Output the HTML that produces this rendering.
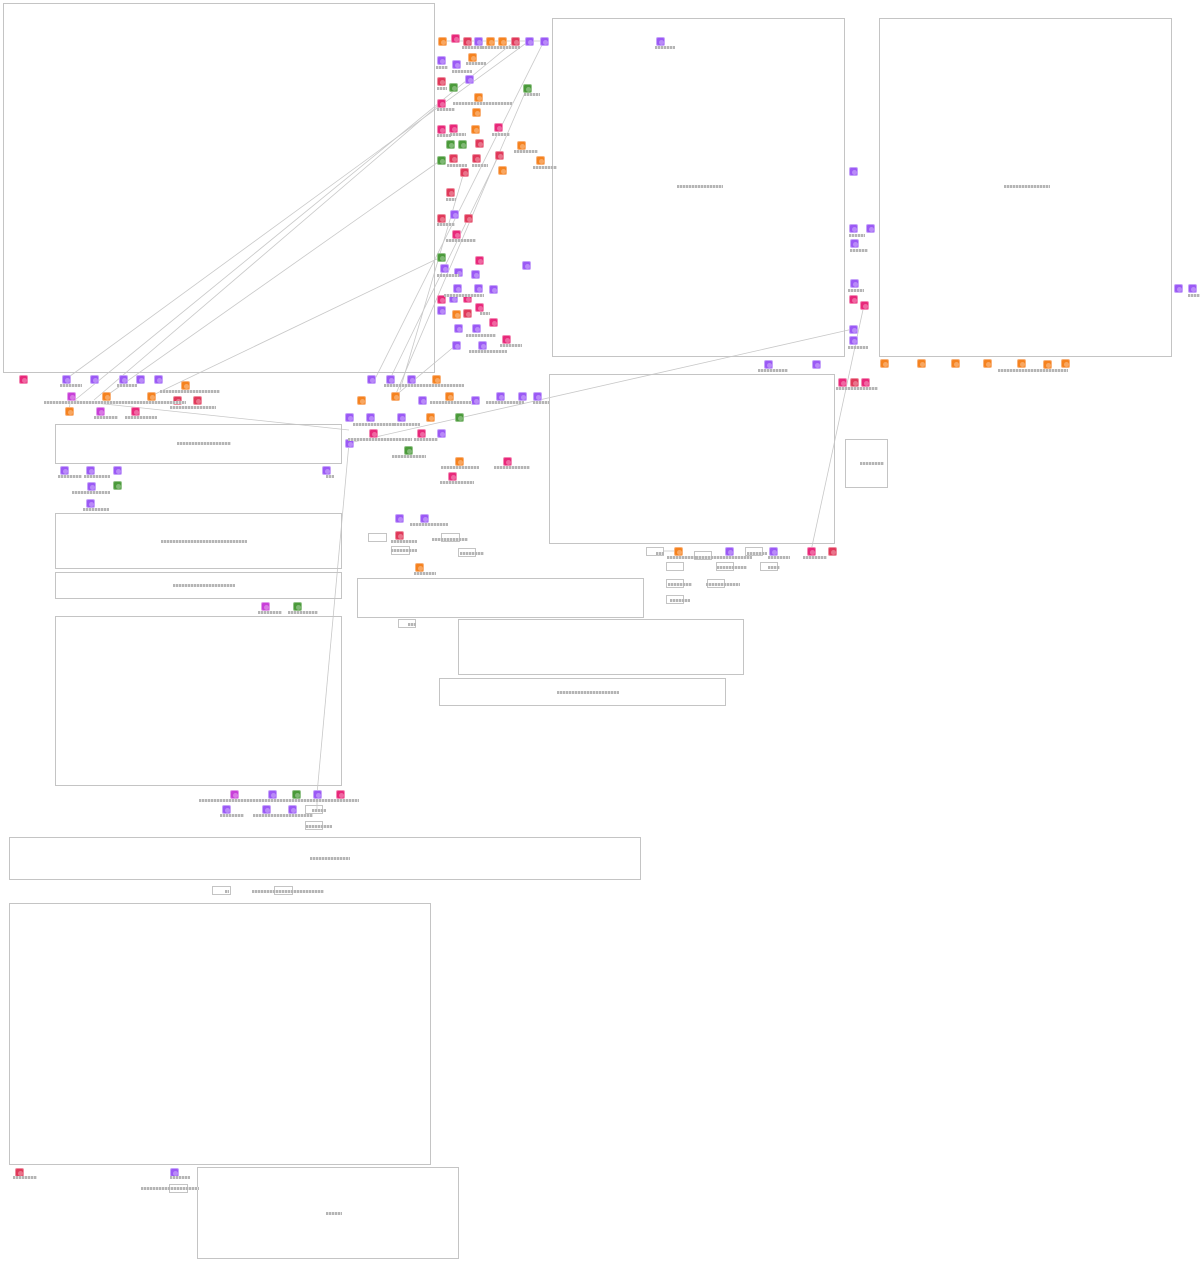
<!DOCTYPE html>
<html><head><meta charset="utf-8"><style>
html,body{margin:0;padding:0;background:#fff;}
#c{position:relative;width:1200px;height:1263px;overflow:hidden;font-family:"Liberation Sans",sans-serif;}
.b{position:absolute;border:1px solid #c4c4c4;box-sizing:border-box;background:transparent;}
.i{position:absolute;width:9px;height:9px;border-radius:2px;box-sizing:border-box;}
.i::after{content:"";position:absolute;left:2px;top:2px;width:5px;height:5px;border-radius:50%;background:rgba(255,255,255,0.3);}
.l{position:absolute;height:3px;font-size:3px;line-height:3px;color:#aaa;white-space:nowrap;overflow:hidden;background:repeating-linear-gradient(90deg,#b5b5b5 0 2px,#e2e2e2 2px 3px);}
svg{position:absolute;left:0;top:0;}
</style></head><body><div id="c">
<svg width="1200" height="1263" stroke="#c8c8c8" stroke-width="0.8" fill="none">
<line x1="529" y1="41" x2="66" y2="379"/>
<line x1="515" y1="41" x2="75" y2="400"/>
<line x1="441" y1="103" x2="94" y2="400"/>
<line x1="441" y1="160" x2="106" y2="396"/>
<line x1="441" y1="257" x2="151" y2="396"/>
<line x1="544" y1="41" x2="375" y2="379"/>
<line x1="527" y1="88" x2="395" y2="396"/>
<line x1="499" y1="155" x2="390" y2="379"/>
<line x1="464" y1="172" x2="400" y2="390"/>
<line x1="456" y1="345" x2="395" y2="396"/>
<line x1="853" y1="329" x2="349" y2="443"/>
<line x1="864" y1="305" x2="811" y2="551"/>
<line x1="349" y1="443" x2="317" y2="794"/>
<line x1="67" y1="400" x2="349" y2="430"/>
<line x1="71" y1="396" x2="69" y2="411"/>
<line x1="442" y1="41" x2="544" y2="41"/>
<line x1="664" y1="551" x2="678" y2="551"/>
<line x1="317" y1="794" x2="317" y2="809"/>
</svg>
<div id="boxes"></div>
</div>
<script>
var c=document.getElementById('c');
var B=[[3,3,432,370],[552,18,293,339],[879,18,293,339],[549,374,286,170],[55,424,287,40],[55,513,287,56],[55,572,287,27],[357,578,287,40],[458,619,286,56],[439,678,287,28],[55,616,287,170],[845,439,43,49],[9,837,632,43],[9,903,422,262],[197,1167,262,92],
[368,533,19,9],[391,546,19,9],[441,533,19,9],[458,548,18,9],[398,619,18,9],[646,547,18,9],[694,551,18,9],[745,547,18,9],[666,562,18,9],[716,562,18,9],[760,562,18,9],[666,579,18,9],[707,579,18,9],[666,595,18,9],[305,805,18,9],[305,821,18,9],[212,886,19,9],[274,886,19,9],[169,1184,19,9]];
B.forEach(function(b){var d=document.createElement('div');d.className='b';d.style.cssText='left:'+b[0]+'px;top:'+b[1]+'px;width:'+b[2]+'px;height:'+b[3]+'px';c.appendChild(d);});
var col={o:['#f5821f','#f9b27a'],p:['#e8287a','#f38ab5'],r:['#e0395a','#ee8ea0'],u:['#9b59f5','#c6a4fa'],g:['#4a9a3a','#93c389'],m:['#c83fd8','#e29aeb']};
var I="442,41,o 455,38,p 467,41,r 478,41,u 490,41,o 502,41,o 515,41,r 529,41,u 544,41,u 441,60,u 456,64,u 472,57,o 469,79,u 441,81,r 453,87,g 478,97,o 527,88,g 441,103,p 476,112,o 441,129,p 453,128,p 475,129,o 498,127,p 450,144,g 462,144,g 479,143,r 521,145,o 441,160,g 453,158,r 476,158,r 499,155,r 540,160,o 464,172,r 502,170,o 450,192,r 454,214,u 441,218,r 468,218,r 456,234,p 441,257,g 479,260,p 526,265,u 444,268,u 458,272,u 475,274,u 457,288,u 478,288,u 493,289,u 441,299,p 453,298,u 467,298,p 479,307,p 441,310,u 456,314,o 467,313,r 493,322,p 458,328,u 476,328,u 506,339,p 456,345,u 482,345,u 660,41,u 853,171,u 853,228,u 870,228,u 854,243,u 854,283,u 853,299,p 864,305,p 853,329,u 853,340,u 1178,288,u 1192,288,u 768,364,u 816,364,u 884,363,o 921,363,o 955,363,o 987,363,o 1021,363,o 1047,364,o 1065,363,o 842,382,p 854,382,r 865,382,p 23,379,p 66,379,u 94,379,u 123,379,u 140,379,u 158,379,u 185,385,o 71,396,m 106,396,o 151,396,o 177,400,r 197,400,r 69,411,o 100,411,m 135,411,p 371,379,u 390,379,u 411,379,u 436,379,o 395,396,o 361,400,o 422,400,u 449,396,o 475,400,u 500,396,u 522,396,u 537,396,u 349,417,u 370,417,u 401,417,u 430,417,o 459,417,g 373,433,p 421,433,p 441,433,u 349,443,u 408,450,g 459,461,o 507,461,p 452,476,p 64,470,u 90,470,u 117,470,u 326,470,u 91,486,u 117,485,g 90,503,u 399,518,u 424,518,u 399,535,r 419,567,o 265,606,m 297,606,g 678,551,o 729,551,u 773,551,u 811,551,p 832,551,r 234,794,m 272,794,u 296,794,g 317,794,u 340,794,p 226,809,u 266,809,u 292,809,u 19,1172,r 174,1172,u";
I.split(' ').forEach(function(s){var a=s.split(',');var k=col[a[2]];var d=document.createElement('div');d.className='i';d.style.cssText='left:'+(a[0]-4.5)+'px;top:'+(a[1]-4.5)+'px;background:'+k[0]+';border:1px solid '+k[1];c.appendChild(d);});
var L="462,46,20 482,46,38 436,66,12 452,70,20 466,62,20 437,87,10 453,102,60 437,108,18 524,93,16 437,134,14 450,133,16 492,133,18 514,150,24 533,166,24 447,164,20 472,164,16 446,198,10 437,223,18 446,239,30 437,274,22 444,294,40 480,312,10 466,334,30 500,344,22 469,350,38 655,46,20 677,185,46 1004,185,46 849,234,16 850,249,18 848,289,16 848,346,20 1188,294,12 758,369,30 998,369,70 836,387,42 60,384,22 117,384,20 160,390,60 44,401,100 128,401,58 170,406,46 94,416,24 125,416,32 384,384,80 430,401,42 486,401,38 533,401,16 353,423,66 394,423,26 348,438,64 414,438,24 392,455,34 441,466,38 494,466,36 440,481,34 177,442,54 58,475,24 84,475,26 326,475,8 72,491,38 83,508,26 161,540,86 173,584,62 410,523,38 391,540,26 391,549,26 432,538,36 460,552,24 414,572,22 258,611,24 288,611,30 408,623,8 557,691,62 678,187,0 860,462,24 656,552,8 667,556,56 696,556,56 747,552,20 717,566,30 768,556,22 803,556,24 668,583,24 706,583,34 670,599,20 768,566,12 199,799,160 220,814,24 253,814,60 312,809,14 306,825,26 310,857,40 225,890,4 252,890,72 326,1212,16 13,1176,24 170,1176,20 141,1187,58";
L.split(' ').forEach(function(s){var a=s.split(',');if(+a[2]<=0)return;var d=document.createElement('div');d.className='l';d.textContent='label';d.style.cssText='left:'+a[0]+'px;top:'+a[1]+'px;width:'+a[2]+'px;color:transparent';c.appendChild(d);});
</script>
</body></html>
